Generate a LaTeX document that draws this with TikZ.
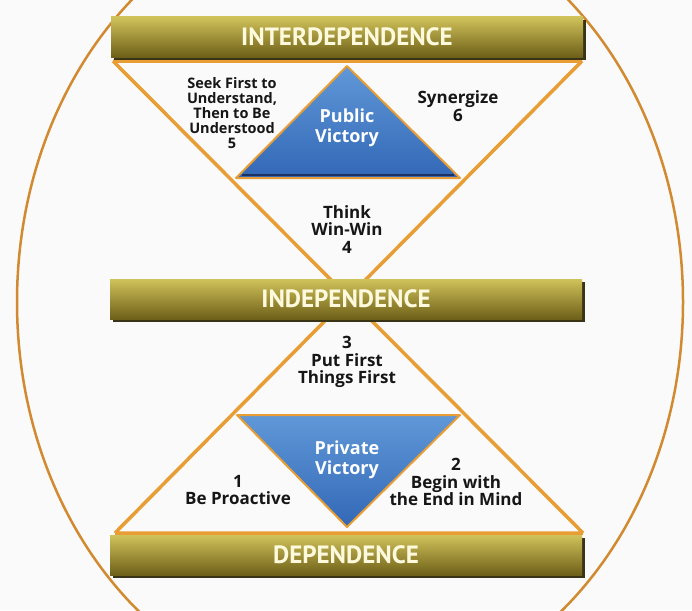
\documentclass[tikz,border=0pt]{standalone}
\usepackage{fontspec}
\setmainfont{Open Sans}
\newfontfamily\levelfont{PT Sans}
\usetikzlibrary{positioning,shadows}

\definecolor{habitline}{RGB}{232,158,52}
\definecolor{rimline}{RGB}{210,138,48}
\definecolor{barhi}{RGB}{208,194,90}
\definecolor{barmid}{RGB}{172,152,42}
\definecolor{barlo}{RGB}{110,96,24}
\definecolor{barshade}{RGB}{58,52,22}
\definecolor{bartext}{RGB}{255,250,222}
\definecolor{vichi}{RGB}{96,152,216}
\definecolor{viclo}{RGB}{50,104,182}
\definecolor{vicedge}{RGB}{28,48,98}
\definecolor{paper}{RGB}{250,250,250}
\definecolor{habittext}{RGB}{22,22,22}

\begin{document}
\begin{tikzpicture}[x=1pt,y=-1pt,
  bar/.style={shade,top color=barhi,middle color=barmid,bottom color=barlo,
    minimum width=472pt,minimum height=40pt,inner sep=0pt,text=bartext,
    font=\levelfont\bfseries\fontsize{25}{25}\selectfont,
    general shadow={fill=barshade,shadow xshift=3pt,shadow yshift=-3pt}},
  habit/.style={align=center,text=habittext,inner sep=0pt,
    font=\bfseries\fontsize{17}{17.5}\selectfont},
  victory/.style={align=center,text=white,inner sep=0pt,
    font=\bfseries\fontsize{18}{20}\selectfont},
  rim/.style={draw=rimline,line width=2.5pt},
  link/.style={draw=habitline,line width=3.5pt},
  wedge/.style={draw=habitline,line width=2pt,line join=round,
    top color=vichi,bottom color=viclo}]
	\useasboundingbox (0,0) rectangle (692,610);
	\fill[paper] (0,0) rectangle (692,610);
	\clip (0,0) rectangle (692,610);

	% outer rim
	\draw[rim] (350,302) ellipse [x radius=333pt, y radius=400pt];

	% hourglass
	\coordinate (tl) at (113,61);
	\coordinate (tr) at (582,61);
	\coordinate (bl) at (115,533);
	\coordinate (br) at (583,533);
	\draw[link] (tl) -- (tr) (tl) -- (br) (tr) -- (bl) (bl) -- (br);

	% victories
	\coordinate (pubtop) at (347,66);
	\coordinate (publeft) at (236,178);
	\coordinate (pubright) at (460,178);
	\draw[wedge] (pubtop) -- (pubright) -- (publeft) -- cycle;
	\draw[vicedge,line width=2.5pt] ([shift={(6pt,3pt)}]publeft) -- ([shift={(-6pt,3pt)}]pubright);

	\coordinate (privleft) at (237,415);
	\coordinate (privright) at (460,415);
	\coordinate (privtip) at (347,527);
	\draw[wedge] (privleft) -- (privright) -- (privtip) -- cycle;

	% levels
	\node[bar] (interdep) at (347,37) {INTERDEPENDENCE};
	\node[bar] (indep) at (346,299) {INDEPENDENCE};
	\node[bar] (dep) at (346,555) {DEPENDENCE};

	\node[victory] (public) at (347,128) {Public\\Victory};
	\node[victory] (private) at (347,460) {Private\\Victory};

	% habits
	\node[habit,font=\bfseries\fontsize{14.5}{15}\selectfont] (habit5) at (232,113) {Seek First to\\Understand,\\Then to Be\\Understood\\5};
	\node[habit] (habit6) at (458,106) {Synergize\\6};
	\node[habit,below=58pt of public] (habit4) {Think\\Win-Win\\4};
	\node[habit] (habit3) at (347,362) {3\\Put First\\Things First};
	\node[habit] (habit1) at (238,490) {1\\Be Proactive};
	\node[habit] (habit2) at (456,482) {2\\Begin with\\the End in Mind};
\end{tikzpicture}
\end{document}
